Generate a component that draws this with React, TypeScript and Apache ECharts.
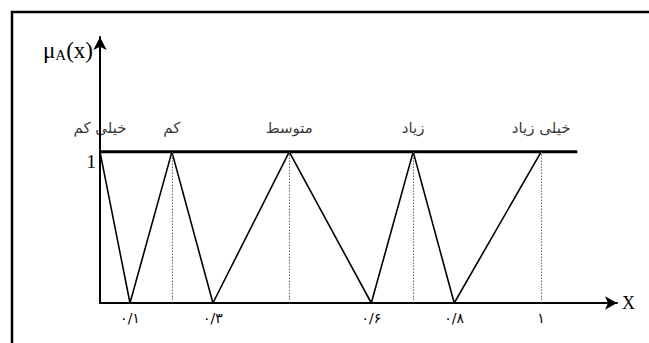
import React, { useEffect, useRef } from "react";
import * as echarts from "echarts";

// Membership breakpoints (drawn positions along the x axis)
const zigzagX = [0, 0.068, 0.163, 0.256, 0.429, 0.615, 0.71, 0.803, 1.0];
const zigzagY = [1, 0, 1, 0, 1, 0, 1, 0, 1];
// Linguistic terms and their peaks
const termNames = ["خیلی کم", "کم", "متوسط", "زیاد", "خیلی زیاد"];
const peakPos = [0, 0.163, 0.429, 0.71, 1.0];
// Peaks that get a dotted guide down to the x axis
const guidePos = [0.163, 0.429, 0.71, 1.0];
// X tick labels (Persian digits) and their drawn positions
const xLabelText = ["۰/۱", "۰/۳", "۰/۶", "۰/۸", "۱"];
const xLabelPos = [0.068, 0.256, 0.615, 0.803, 1.0];
// Upper line (membership = 1)
const topLineX = [0, 1.082];
const topLineY = [1, 1];
const xMax = 1.172;
const yMax = 1.76;

export default function App() {
  const ref = useRef<HTMLDivElement>(null);
  useEffect(() => {
    document.body.style.margin = "0";
    const chart = echarts.init(ref.current!, null, { renderer: "svg" });
    const serif = "Liberation Serif";
    const fa = "DejaVu Sans";
    chart.setOption({
      animation: false,
      backgroundColor: "#fff",
      grid: { left: 100, right: 32, top: 37, bottom: 40 },
      xAxis: {
        type: "value",
        min: 0,
        max: xMax,
        name: "X",
        nameLocation: "end",
        nameGap: 5,
        nameTextStyle: { fontFamily: serif, fontSize: 18, color: "#000", verticalAlign: "middle", align: "left" },
        axisLine: {
          show: true,
          onZero: false,
          symbol: ["none", "arrow"],
          symbolSize: [10, 12],
          lineStyle: { color: "#000", width: 2 },
        },
        axisTick: { show: false },
        splitLine: { show: false },
        axisLabel: {
          customValues: xLabelPos,
          formatter: (v: number) => {
            let best = 0;
            xLabelPos.forEach((p, i) => {
              if (Math.abs(p - v) < Math.abs(xLabelPos[best] - v)) best = i;
            });
            return xLabelText[best];
          },
          fontFamily: fa,
          fontSize: 14,
          color: "#000",
          margin: 8,
        },
      },
      yAxis: {
        type: "value",
        min: 0,
        max: yMax,
        axisLine: {
          show: true,
          onZero: false,
          symbol: ["none", "arrow"],
          symbolSize: [10, 13],
          lineStyle: { color: "#000", width: 2 },
        },
        axisTick: { show: false },
        splitLine: { show: false },
        axisLabel: {
          customValues: [1],
          formatter: (v: number) => String(v),
          fontFamily: serif,
          fontSize: 19,
          color: "#000",
          verticalAlign: "top",
          margin: 4,
        },
      },
      graphic: [
        {
          type: "polyline",
          shape: { points: [[12, 343], [12, 12], [649, 12]] },
          style: { stroke: "#000", lineWidth: 2.5, fill: "none" },
          z: 10,
        },
        {
          type: "text",
          x: 93,
          y: 50,
          style: {
            text: "{m|μ}{s|A}{m|(x)}",
            align: "right",
            verticalAlign: "middle",
            rich: {
              m: { fontFamily: serif, fontSize: 23, fill: "#000" },
              s: { fontFamily: serif, fontSize: 15, fill: "#000", padding: [9, 0, 0, 0] },
            },
          },
        },
      ],
      series: [
        {
          type: "line",
          data: topLineX.map((x, i) => [x, topLineY[i]]),
          symbol: "none",
          lineStyle: { color: "#000", width: 3 },
          z: 3,
        },
        {
          type: "line",
          data: zigzagX.map((x, i) => [x, zigzagY[i]]),
          symbol: "none",
          lineStyle: { color: "#000", width: 1.6 },
          z: 4,
          markLine: {
            silent: true,
            symbol: "none",
            label: { show: false },
            lineStyle: { color: "#666", width: 1, type: [1.5, 1.5] },
            data: guidePos.map((x) => [{ coord: [x, 0] }, { coord: [x, 1] }]),
          },
        },
        {
          type: "scatter",
          data: peakPos.map((x, i) => ({ value: [x, 1], name: termNames[i] })),
          symbolSize: 0,
          label: {
            show: true,
            position: "top",
            distance: 16,
            formatter: (p: any) => p.name,
            fontFamily: fa,
            fontSize: 15,
            color: "#000",
          },
        },
      ],
    });
    return () => chart.dispose();
  }, []);
  return <div ref={ref} style={{ width: 649, height: 343 }} />;
}
